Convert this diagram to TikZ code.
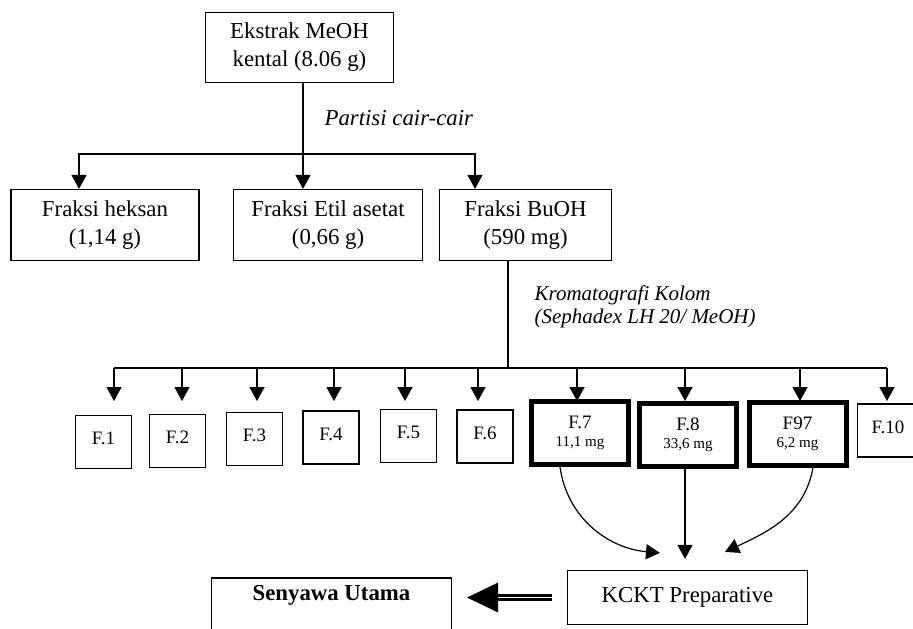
\documentclass[tikz,border=0pt]{standalone}
\usepackage{fontspec}
\setmainfont{Liberation Serif}
\usetikzlibrary{arrows.meta}
\begin{document}
\begin{tikzpicture}[x=0.5pt, y=-0.5pt, line width=0.6pt,
    box/.style={draw, inner sep=0pt, align=center, font=\fontsize{11.4}{14}\selectfont},
    frac/.style={draw, inner sep=0pt, minimum width=28pt, minimum height=26.5pt, font=\fontsize{9.5}{9}\selectfont},
    fracs/.style={frac, text height=6.5pt, text depth=4pt},
    fracb/.style={frac, line width=2.5pt, minimum width=48.5pt, minimum height=31.5pt, align=center},
    note/.style={font=\itshape\fontsize{11.4}{14}\selectfont, anchor=west, align=left, inner sep=0pt},
    arr/.style={-{Triangle[length=7pt,width=7.5pt]}},
    dbl/.style={line width=1.6pt, double distance=0.6pt}
]
\useasboundingbox (0,0) rectangle (913,628);
% extraction and partition
\node[box, minimum width=94pt, minimum height=35pt] (ekstrak) at (299.5,47.5) {Ekstrak MeOH\\kental (8.06 g)};
\node[note] (partisi) at (324,118) {Partisi cair-cair};
\node[box, minimum width=94pt, minimum height=35.5pt] (heksan) at (105,225) {Fraksi heksan\\(1,14 g)};
\node[box, minimum width=94.5pt, minimum height=35.5pt] (etil) at (328,225) {Fraksi Etil asetat\\(0,66 g)};
\node[box, minimum width=86pt, minimum height=35.5pt] (buoh) at (525.5,225) {Fraksi BuOH\\(590 mg)};
\coordinate (split) at (303,154);
\draw (split |- ekstrak.south) -- (split);
\draw[arr] (split) -- (split |- etil.north);
\draw[arr] (split) -| ([xshift=-13pt]heksan.north);
\draw[arr] (split) -| ([xshift=-25.25pt]buoh.north);
% column chromatography
\node[note, font=\itshape\fontsize{10.5}{11.5}\selectfont] (kolom) at (534,306.5) {Kromatografi Kolom\\(Sephadex LH 20/ MeOH)};
\coordinate (bus) at (508,368);
\draw (bus |- buoh.south) -- (bus);
\foreach \n/\x/\y in {1/103.5/442, 2/177.5/441, 3/254.5/439, 4/331/437.5, 5/408.5/436, 6/485/436.5}
    \node[fracs] (f\n) at (\x,\y) {F.\n};
\node[fracb] (f7) at (580,433) {F.7\\{\fontsize{7.5}{9}\selectfont 11,1 mg}};
\node[fracb] (f8) at (688,434.5) {F.8\\{\fontsize{7.5}{9}\selectfont 33,6 mg}};
\node[fracb] (f97) at (797.5,433.5) {F97\\{\fontsize{7.5}{9}\selectfont 6,2 mg}};
\node[fracs, minimum width=30.5pt] (f10) at (888,430.5) {F.10};
\foreach \n/\x in {1/114, 2/182, 3/257, 4/334, 5/405, 6/478, 7/577, 8/685, 97/800, 10/887} {
    \coordinate (t\n) at (\x,401);
    \draw[arr] (t\n |- bus) -- (t\n);
}
\draw (t1 |- bus) -- (t10 |- bus);
% preparative HPLC
\node[box, minimum width=120pt, minimum height=27pt] (kckt) at (687.5,597.5) {KCKT Preparative};
\node[box, minimum width=120pt, inner ysep=3pt, text height=8pt, text depth=25pt, font=\bfseries\fontsize{11.4}{13}\selectfont] (senyawa) at (331.5,617) {Senyawa Utama};
\draw[arr] ([xshift=-10pt]f7.south) to[out=-82, in=175] ([xshift=-13.75pt,yshift=8.5pt]kckt.north);
\draw[arr] ([xshift=-1.5pt]f8.south) -- ([xshift=-1.25pt,yshift=5.5pt]kckt.north);
\draw[arr] ([xshift=7.75pt]f97.south) to[out=-100, in=25] ([xshift=18.75pt,yshift=9pt]kckt.north);
\draw[dbl] ([xshift=-7.5pt]kckt.west) -- ([xshift=22pt]kckt.west -| senyawa.east);
\fill ([xshift=7.5pt]kckt.west -| senyawa.east) -- ++(15.5pt,7.5pt) -- ++(0,-15pt) -- cycle;
\end{tikzpicture}
\end{document}
